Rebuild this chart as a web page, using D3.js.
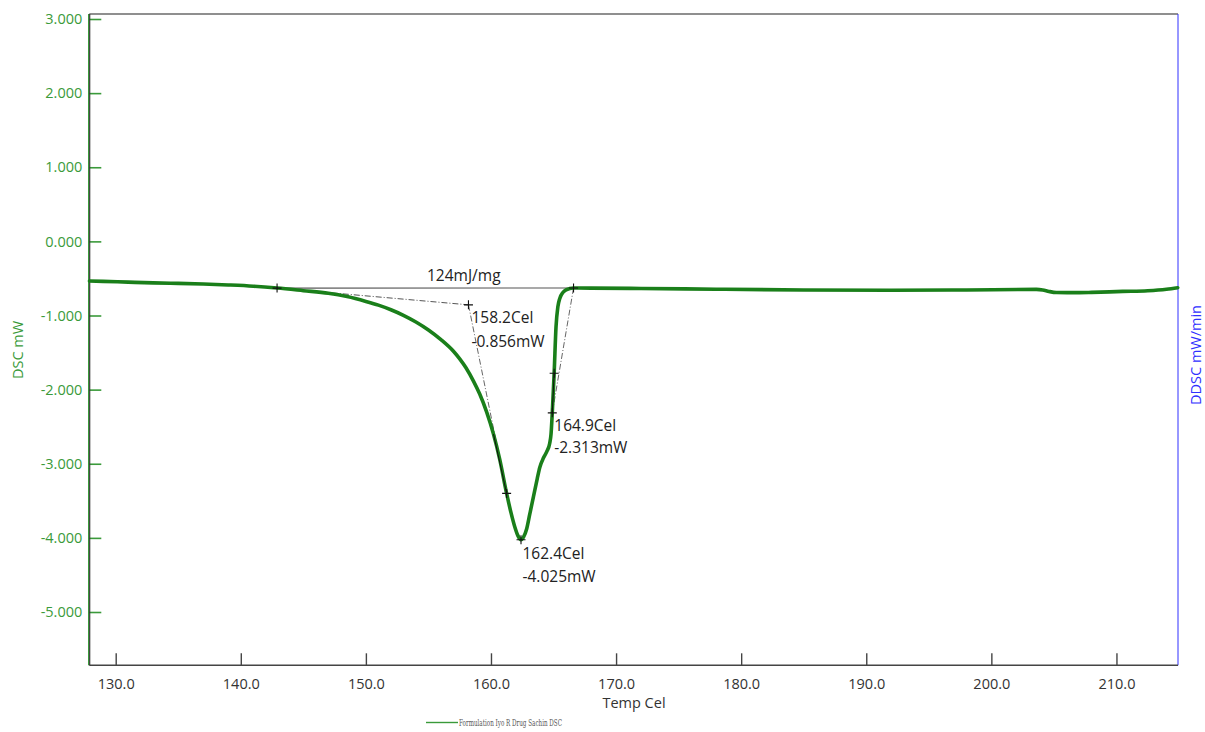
<!DOCTYPE html>
<html>
<head>
<meta charset="utf-8">
<script src="https://cdn.jsdelivr.net/npm/d3@7/dist/d3.min.js"></script>
<style>
  html, body { margin: 0; padding: 0; background: #fff; }
  svg { display: block; font-family: "Open Sans", "Noto Sans", sans-serif; }
</style>
</head>
<body>
<svg id="chart" width="1205" height="732"></svg>
<script>
// DSC scan: temperature (Cel) and heat flow (mW)
const temperature = [127.9, 129, 131, 133, 135, 137, 139, 141, 142.9, 145, 147, 148.5, 150, 151, 152, 153,
  154, 155, 156, 157, 157.5, 158, 158.6, 159.1, 159.65, 160.2, 160.7, 161.25, 161.6, 161.9, 162.15, 162.4,
  162.6, 162.85, 163.1, 163.4, 163.7, 163.9, 164.2, 164.45, 164.7, 164.8, 164.9, 165.05, 165.2, 165.35,
  165.5, 165.75, 166.0, 166.6, 168, 172, 178, 185, 192, 198, 203.6, 204.1, 204.6, 205.2, 206.5, 208,
  210.5, 212.5, 214, 214.9];
const dsc = [-0.535, -0.54, -0.55, -0.56, -0.566, -0.575, -0.588, -0.605, -0.63, -0.665, -0.70, -0.745,
  -0.81, -0.86, -0.922, -0.997, -1.087, -1.195, -1.325, -1.482, -1.585, -1.705, -1.885, -2.06, -2.30,
  -2.60, -2.94, -3.40, -3.66, -3.85, -3.97, -4.025, -3.99, -3.88, -3.68, -3.44, -3.20, -3.05, -2.92,
  -2.84, -2.72, -2.60, -2.313, -1.78, -1.15, -0.88, -0.77, -0.69, -0.655, -0.628, -0.63, -0.635,
  -0.645, -0.655, -0.66, -0.655, -0.648, -0.655, -0.675, -0.69, -0.692, -0.688, -0.675, -0.665,
  -0.645, -0.625];

// axis ticks
const xTicks = [130, 140, 150, 160, 170, 180, 190, 200, 210];
const yTicks = [3, 2, 1, 0, -1, -2, -3, -4, -5];

// peak analysis annotations
const baselineStart = [142.9, -0.63];
const baselineEnd = [166.6, -0.628];
const onsetPoint = [158.2, -0.856];
const leftTangentPoint = [161.25, -3.40];
const leftTangentFrom = [160.2, -2.60];
const peakPoint = [162.4, -4.025];
const endsetPoint = [164.9, -2.313];
const rightTangentPoint = [165.05, -1.78];
const enthalpyLabel = "124mJ/mg";
const seriesName = "Formulation Iyo R Drug Sachin  DSC";

const svg = d3.select("#chart");
const plotL = 89.3, plotR = 1178, plotT = 14, plotB = 665.3;

const x = d3.scaleLinear().domain([127.89, 214.92]).range([plotL, plotR]);
const y = d3.scaleLinear().domain([-5.719, 3.0675]).range([plotB, plotT]);

// plain hyphen for negative numbers
const locale = d3.formatLocale({ decimal: ".", thousands: ",", grouping: [3], currency: ["", ""], minus: "-" });
const fmt1 = locale.format(".1f"), fmt3 = locale.format(".3f");

const green = "#1a7f1a";
const labelGreen = "#3a9a3a";

// frame
svg.append("line").attr("x1", plotL).attr("x2", plotR).attr("y1", plotT).attr("y2", plotT)
  .attr("stroke", "#6a6a6a").attr("stroke-width", 1.6);
svg.append("line").attr("x1", plotR).attr("x2", plotR).attr("y1", plotT).attr("y2", plotB)
  .attr("stroke", "#3030ff").attr("stroke-width", 1);

// y axis (DSC mW)
const yAxis = svg.append("g").attr("transform", `translate(${plotL},0)`)
  .call(d3.axisLeft(y).tickValues(yTicks).tickSize(-12).tickPadding(7).tickFormat(fmt3));
yAxis.select(".domain").remove();
yAxis.selectAll(".tick line").attr("stroke", labelGreen).attr("stroke-width", 1.6);
yAxis.selectAll(".tick text").attr("fill", labelGreen).attr("font-size", 14.5)
  .attr("font-family", "'Open Sans', sans-serif");

// x axis (Temp Cel)
const xAxis = svg.append("g").attr("transform", `translate(0,${plotB})`)
  .call(d3.axisBottom(x).tickValues(xTicks).tickSize(-12).tickPadding(13).tickFormat(fmt1));
xAxis.select(".domain").remove();
xAxis.selectAll(".tick line").attr("stroke", "#444").attr("stroke-width", 1.4);
xAxis.selectAll(".tick text").attr("fill", "#333").attr("font-size", 14.5)
  .attr("font-family", "'Open Sans', sans-serif");

// axis lines
svg.append("line").attr("x1", plotL).attr("x2", plotR).attr("y1", plotB).attr("y2", plotB)
  .attr("stroke", "#444").attr("stroke-width", 1.6);
svg.append("line").attr("x1", plotL - 0.8).attr("x2", plotL - 0.8).attr("y1", plotT).attr("y2", plotB)
  .attr("stroke", labelGreen).attr("stroke-width", 1);
svg.append("line").attr("x1", plotL + 0.4).attr("x2", plotL + 0.4).attr("y1", plotT).attr("y2", plotB)
  .attr("stroke", "#333").attr("stroke-width", 1.2);

// axis titles
svg.append("text").attr("transform", `translate(23,350) rotate(-90)`)
  .attr("text-anchor", "middle").attr("fill", labelGreen).attr("font-size", 14.5).text("DSC mW");
svg.append("text").attr("transform", `translate(1201,355) rotate(-90)`)
  .attr("text-anchor", "middle").attr("fill", "#3030ff").attr("font-size", 14.5).text("DDSC mW/min");
svg.append("text").attr("x", 634).attr("y", 708).attr("text-anchor", "middle")
  .attr("fill", "#333").attr("font-size", 14.5).text("Temp Cel");

// analysis construction lines (drawn beneath the curve)
const P = p => [x(p[0]), y(p[1])];
const seg = (a, b, dash, color, w) => svg.append("line")
  .attr("x1", P(a)[0]).attr("y1", P(a)[1]).attr("x2", P(b)[0]).attr("y2", P(b)[1])
  .attr("stroke", color).attr("stroke-width", w).attr("stroke-dasharray", dash);

seg(baselineStart, baselineEnd, null, "#555", 1.1);
seg(baselineStart, onsetPoint, "6,2,1,2", "#555", 1);
seg(onsetPoint, leftTangentPoint, "6,2,1,2", "#666", 1);
seg(baselineEnd, endsetPoint, "6,2,1,2", "#666", 1);

// DSC curve
const series = temperature.map((t, i) => [t, dsc[i]]);
const line = d3.line().x(d => x(d[0])).y(d => y(d[1])).curve(d3.curveMonotoneX);
svg.append("path").datum(series).attr("d", line)
  .attr("fill", "none").attr("stroke", green).attr("stroke-width", 3.6)
  .attr("stroke-linejoin", "round").attr("stroke-linecap", "round");

// tangent overlays
seg(leftTangentFrom, leftTangentPoint, null, "#111", 1);
seg(rightTangentPoint, endsetPoint, null, "#111", 1);

// markers
const markers = [baselineStart, baselineEnd, onsetPoint, leftTangentPoint, peakPoint, endsetPoint, rightTangentPoint];
svg.append("g").selectAll("path").data(markers).join("path")
  .attr("d", d => {
    const [px, py] = P(d), s = 4.5;
    return `M${px - s},${py}H${px + s}M${px},${py - s}V${py + s}`;
  })
  .attr("stroke", "#111").attr("stroke-width", 1.1).attr("fill", "none");

// annotation text
const ann = svg.append("g").attr("fill", "#222").attr("font-size", 15.5);
ann.append("text").attr("x", 427).attr("y", 281).text(enthalpyLabel);
ann.append("text").attr("x", P(onsetPoint)[0] + 3).attr("y", P(onsetPoint)[1] + 18.5).text(fmt1(onsetPoint[0]) + "Cel");
ann.append("text").attr("x", P(onsetPoint)[0] + 3).attr("y", P(onsetPoint)[1] + 42).text(fmt3(onsetPoint[1]) + "mW");
ann.append("text").attr("x", P(endsetPoint)[0] + 2).attr("y", P(endsetPoint)[1] + 18).text(fmt1(endsetPoint[0]) + "Cel");
ann.append("text").attr("x", P(endsetPoint)[0] + 2).attr("y", P(endsetPoint)[1] + 40).text(fmt3(endsetPoint[1]) + "mW");
ann.append("text").attr("x", P(peakPoint)[0] + 1.5).attr("y", P(peakPoint)[1] + 19).text(fmt1(peakPoint[0]) + "Cel");
ann.append("text").attr("x", P(peakPoint)[0] + 1.5).attr("y", P(peakPoint)[1] + 42).text(fmt3(peakPoint[1]) + "mW");

// legend
svg.append("line").attr("x1", 426).attr("x2", 458).attr("y1", 722.5).attr("y2", 722.5)
  .attr("stroke", "#3a9a3a").attr("stroke-width", 1.4);
svg.append("text").attr("x", 459).attr("y", 725.5).attr("font-size", 9)
  .attr("font-family", "'DejaVu Serif', serif").attr("fill", "#555")
  .attr("textLength", 103).attr("lengthAdjust", "spacingAndGlyphs").text(seriesName);
</script>
</body>
</html>
